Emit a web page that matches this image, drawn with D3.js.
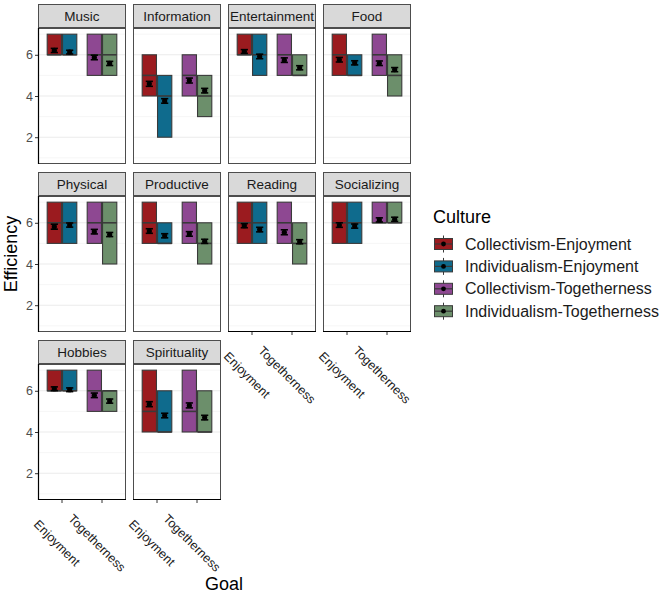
<!DOCTYPE html>
<html>
<head>
<meta charset="utf-8">
<script src="https://cdn.jsdelivr.net/npm/d3@7"></script>
<style>
  html, body { margin: 0; padding: 0; background: #fff; }
  svg { display: block; font-family: "Liberation Sans", Arial, sans-serif; }
</style>
</head>
<body>
<svg id="chart" width="669" height="597"></svg>
<script>
// ---------- data ----------
const facets = ["Music","Information","Entertainment","Food","Physical","Productive","Reading","Socializing","Hobbies","Spirituality"];
const goals = ["Enjoyment","Togetherness"];
const cultures = ["Collectivism","Individualism"];
const groups = ["Collectivism-Enjoyment","Individualism-Enjoyment","Collectivism-Togetherness","Individualism-Togetherness"];
const groupColors = ["#9b1b1f","#0f6b8d","#8e4892","#6c8f6b"];
const yTicks = [2,4,6];

// per facet, values in the order of `groups`
const q1 = [
  [6,6,5,5],[4,2,4,3],[6,5,5,5],[5,5,5,4],[5,5,5,4],
  [5,5,5,4],[5,5,5,4],[5,5,6,6],[6,6,5,5],[4,4,4,4]
];
const medians = [
  [6,6,6,6],[5,4,5,4],[6,6,6,5],[6,5,6,5],[6,6,6,6],
  [6,5,6,5],[6,6,6,5],[6,6,6,6],[6,6,6,6],[5,4,5,4]
];
const q3 = [
  [7,7,7,7],[6,5,6,5],[7,7,7,6],[7,6,7,6],[7,7,7,7],
  [7,6,7,6],[7,7,7,6],[7,7,7,7],[7,7,7,6],[7,6,7,6]
];
const means = [
  [6.21,6.13,5.87,5.58],[4.59,3.76,4.75,4.26],[6.16,5.92,5.74,5.37],[5.76,5.61,5.59,5.28],[5.81,5.89,5.57,5.43],
  [5.60,5.37,5.46,5.10],[5.86,5.67,5.54,5.08],[5.89,5.84,6.14,6.17],[6.10,6.05,5.78,5.50],[5.35,4.80,5.29,4.70]
];
const ses = [
  [0.10,0.09,0.11,0.10],[0.12,0.11,0.12,0.11],[0.09,0.11,0.11,0.10],[0.11,0.10,0.11,0.10],[0.12,0.10,0.11,0.10],
  [0.11,0.10,0.11,0.10],[0.10,0.11,0.12,0.10],[0.11,0.10,0.10,0.10],[0.09,0.09,0.11,0.10],[0.12,0.11,0.12,0.11]
];

// ---------- layout ----------
const svg = d3.select("#chart");
const nCol = 4;
const colX = [38, 133, 228, 323];
const rowTop = [4, 172, 340];
const panelW = 88, stripH = 24, plotH = 136;
const borderCol = "#4d4d4d";

const y = d3.scaleLinear().domain([0.7, 7.3]).range([plotH, 0]);
const x0 = d3.scaleBand().domain(goals).range([0, panelW]).paddingInner(0).paddingOuter(0.1);
const x1 = d3.scaleBand().domain(cultures).range([-14.8, 14.8]).paddingInner(0.07);
const color = d3.scaleOrdinal().domain(groups).range(groupColors);

const lastRowOfCol = c => {
  let last = -1;
  facets.forEach((f,i)=>{ if (i % nCol === c) last = Math.floor(i/nCol); });
  return last;
};

facets.forEach((facet, fi) => {
  const col = fi % nCol, row = Math.floor(fi / nCol);
  const gx = colX[col], gy = rowTop[row];
  const g = svg.append("g").attr("transform", `translate(${gx},${gy})`);

  // strip
  g.append("rect").attr("x",0.5).attr("y",0.5).attr("width",panelW-1).attr("height",stripH-1)
    .attr("fill","#d9d9d9").attr("stroke",borderCol).attr("stroke-width",1);
  g.append("text").attr("x",panelW/2).attr("y",stripH/2+5)
    .attr("text-anchor","middle").attr("font-size",13.5).attr("fill","#1a1a1a").text(facet);

  const p = g.append("g").attr("transform",`translate(0,${stripH})`);
  p.append("rect").attr("width",panelW).attr("height",plotH).attr("fill","#fff");

  // grid
  const minor = [1,3,5,7], major = yTicks;
  p.selectAll("line.minor").data(minor).join("line")
    .attr("x1",0).attr("x2",panelW).attr("y1",d=>y(d)).attr("y2",d=>y(d))
    .attr("stroke","#f0f0f0").attr("stroke-width",0.6);
  p.selectAll("line.major").data(major).join("line")
    .attr("x1",0).attr("x2",panelW).attr("y1",d=>y(d)).attr("y2",d=>y(d))
    .attr("stroke","#ebebeb").attr("stroke-width",1.1);

  // boxes
  groups.forEach((grp, gi) => {
    const [cult, goal] = grp.split("-");
    const cx = x0(goal) + x0.bandwidth()/2 + x1(cult) + x1.bandwidth()/2;
    const bw = x1.bandwidth();
    const a = q1[fi][gi], m = medians[fi][gi], b = q3[fi][gi];
    p.append("rect").attr("x",cx-bw/2).attr("y",y(b)).attr("width",bw).attr("height",y(a)-y(b))
      .attr("fill",color(grp)).attr("stroke","#3a3a3a").attr("stroke-width",1.1);
    p.append("line").attr("x1",cx-bw/2).attr("x2",cx+bw/2).attr("y1",y(m)).attr("y2",y(m))
      .attr("stroke","#3a3a3a").attr("stroke-width",1.6);
    // mean + error bar
    const mu = means[fi][gi], se = ses[fi][gi];
    const ew = 3.6;
    p.append("line").attr("x1",cx).attr("x2",cx).attr("y1",y(mu-se)).attr("y2",y(mu+se))
      .attr("stroke","#000").attr("stroke-width",2);
    p.append("line").attr("x1",cx-ew).attr("x2",cx+ew).attr("y1",y(mu+se)).attr("y2",y(mu+se))
      .attr("stroke","#000").attr("stroke-width",1.6);
    p.append("line").attr("x1",cx-ew).attr("x2",cx+ew).attr("y1",y(mu-se)).attr("y2",y(mu-se))
      .attr("stroke","#000").attr("stroke-width",1.6);
    p.append("circle").attr("cx",cx).attr("cy",y(mu)).attr("r",2.6).attr("fill","#000");
  });

  // panel border
  p.append("rect").attr("x",0.5).attr("y",0.5).attr("width",panelW-1).attr("height",plotH-1)
    .attr("fill","none").attr("stroke",borderCol).attr("stroke-width",1);

  // left axis
  if (col === 0) {
    const ax = p.append("g").call(d3.axisLeft(y).tickValues(yTicks).tickFormat(d3.format("d")).tickSize(3).tickPadding(2));
    ax.select(".domain").remove();
    ax.selectAll("line").attr("stroke","#333");
    ax.selectAll("text").attr("font-size",12.5).attr("fill","#4d4d4d").attr("font-family","Liberation Sans, Arial, sans-serif");
    p.append("line").attr("x1",0.5).attr("x2",0.5).attr("y1",0).attr("y2",plotH).attr("stroke","#000").attr("stroke-width",1.2);
  }
  // bottom axis
  if (row === lastRowOfCol(col)) {
    const bx = p.append("g").attr("transform",`translate(0,${plotH})`);
    bx.selectAll("line.tk").data(goals).join("line")
      .attr("x1",d=>x0(d)+x0.bandwidth()/2).attr("x2",d=>x0(d)+x0.bandwidth()/2)
      .attr("y1",0).attr("y2",3).attr("stroke","#333");
    bx.selectAll("text").data(goals).join("text")
      .attr("transform",d=>`translate(${x0(d)+x0.bandwidth()/2-8},${46}) rotate(45)`)
      .attr("text-anchor","middle").attr("font-size",12.5).attr("fill","#1a1a1a").text(d=>d);
    p.append("line").attr("x1",0).attr("x2",panelW).attr("y1",plotH-0.5).attr("y2",plotH-0.5).attr("stroke","#000").attr("stroke-width",1.2);
  }
});

// axis titles
svg.append("text").attr("transform","translate(17,254) rotate(-90)").attr("text-anchor","middle")
  .attr("font-size",18).attr("fill","#000").text("Efficiency");
svg.append("text").attr("x",224).attr("y",590).attr("text-anchor","middle")
  .attr("font-size",18).attr("fill","#000").text("Goal");

// legend
const lg = svg.append("g");
lg.append("text").attr("x",433).attr("y",223).attr("font-size",18).attr("fill","#000").text("Culture");
groups.forEach((grp, i) => {
  const cy = 244 + i*22.4, cx = 443.5;
  const k = lg.append("g");
  k.append("line").attr("x1",cx).attr("x2",cx).attr("y1",cy-8.5).attr("y2",cy+8.5).attr("stroke","#3a3a3a").attr("stroke-width",1);
  k.append("rect").attr("x",cx-9).attr("y",cy-5.5).attr("width",18).attr("height",11)
    .attr("fill",color(grp)).attr("stroke","#3a3a3a").attr("stroke-width",1);
  k.append("line").attr("x1",cx-9).attr("x2",cx+9).attr("y1",cy).attr("y2",cy).attr("stroke","#3a3a3a").attr("stroke-width",1.2);
  k.append("circle").attr("cx",cx).attr("cy",cy).attr("r",2.4).attr("fill","#000");
  lg.append("text").attr("x",465).attr("y",cy+5.5).attr("font-size",16).attr("fill","#1a1a1a").text(grp);
});
</script>
</body>
</html>
